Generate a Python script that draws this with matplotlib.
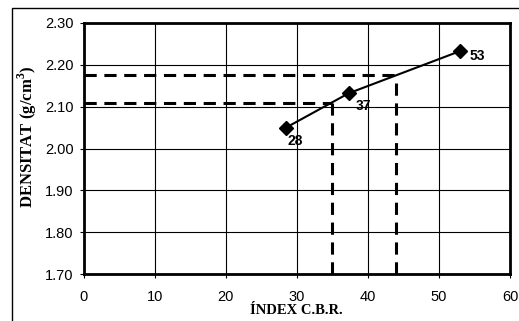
import matplotlib
matplotlib.use("Agg")
import matplotlib.pyplot as plt
from matplotlib.patches import Rectangle

plt.rcParams['mathtext.fontset'] = 'custom'
plt.rcParams['mathtext.rm'] = 'Liberation Serif'
plt.rcParams['mathtext.bf'] = 'Liberation Serif:bold'

cbr = [28.5, 37.3, 53.0]
dens = [2.05, 2.132, 2.233]
labels = ["28", "37", "53"]
ref_x = [35, 44]
ref_y = [2.108, 2.175]
xticks = [0, 10, 20, 30, 40, 50, 60]
yticks = [1.70, 1.80, 1.90, 2.00, 2.10, 2.20, 2.30]

W, H = 519, 321
fig = plt.figure(figsize=(W/100, H/100), dpi=100)
fig.patches.append(Rectangle((12/W, -0.1), 1.2, 1 - 8/H + 0.1, transform=fig.transFigure,
                             fill=False, edgecolor='black', linewidth=1.0))
ax = fig.add_axes([83.5/W, 1 - 274/H, (510-83.5)/W, (274-23)/H])
ax.set_xlim(0, 60)
ax.set_ylim(1.70, 2.30)
ax.set_xticks(xticks)
ax.set_yticks(yticks)
ax.set_xticklabels([str(t) for t in xticks], family='Liberation Sans', fontsize=10.5)
ax.set_yticklabels([f"{t:.2f}" for t in yticks], family='Liberation Sans', fontsize=10.5)
ax.grid(True, color='black', linewidth=0.8)
ax.set_axisbelow(True)
for s in ax.spines.values():
    s.set_linewidth(2)
ax.tick_params(direction='out', length=3, width=0.8)
ax.tick_params(axis='x', pad=8.3)
ax.tick_params(axis='y', pad=4)

dash = dict(color='black', linewidth=2.2, linestyle=(0, (4, 2.5)))
for xv, yv in zip(ref_x, ref_y):
    ax.plot([0, xv], [yv, yv], **dash)
    ax.plot([xv, xv], [1.70, yv], **dash)

ax.plot(cbr, dens, color='black', linewidth=1.5, marker='D', markersize=7.5, zorder=5)
offsets = [(0.7, -10), (5, -9.4), (7, -3.6)]
for x, y, t, (dx, dy) in zip(cbr, dens, labels, offsets):
    ax.annotate(t, (x, y), xytext=(dx, dy), textcoords='offset points',
                family='Liberation Sans', fontweight='bold', fontsize=10, ha='left', va='center')

ax.set_xlabel("ÍNDEX C.B.R.", family='Liberation Serif', fontweight='bold', fontsize=10.5, labelpad=0.5)
ax.set_ylabel("DENSITAT (g/cm$^\\mathbf{3}$)", family='Liberation Serif', fontweight='bold',
              fontsize=12, va='center', ha='center')
ax.yaxis.set_label_coords((27 - 83.5) / 426.5, (274 - 136.5) / 251)
fig.savefig("out.png", dpi=100)
